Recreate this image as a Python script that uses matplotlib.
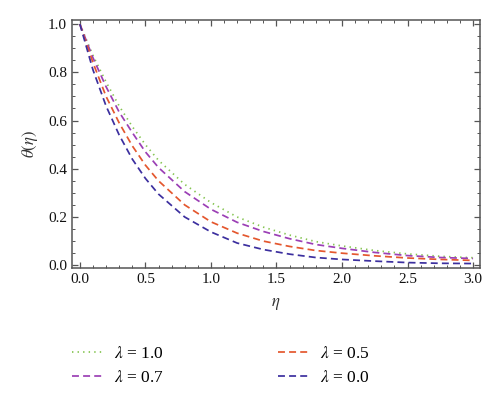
import matplotlib
matplotlib.use("Agg")
import matplotlib.pyplot as plt
from matplotlib.ticker import MultipleLocator, FormatStrFormatter

eta = [0.0, 0.1, 0.2, 0.3, 0.4, 0.5, 0.6, 0.8, 1.0, 1.2, 1.4, 1.6, 1.8, 2.0, 2.25, 2.5, 2.75, 3.0]
theta_l10 = [1.0, 0.87, 0.76, 0.66, 0.575, 0.50, 0.435, 0.335, 0.26, 0.20, 0.158, 0.125, 0.098, 0.08, 0.061, 0.047, 0.037, 0.031]
theta_l07 = [1.0, 0.86, 0.74, 0.635, 0.55, 0.47, 0.405, 0.305, 0.232, 0.178, 0.14, 0.11, 0.086, 0.07, 0.053, 0.040, 0.032, 0.028]
theta_l05 = [1.0, 0.84, 0.70, 0.59, 0.495, 0.415, 0.35, 0.25, 0.18, 0.133, 0.10, 0.078, 0.061, 0.050, 0.039, 0.030, 0.024, 0.020]
theta_l00 = [1.0, 0.81, 0.66, 0.54, 0.44, 0.36, 0.295, 0.20, 0.138, 0.092, 0.065, 0.046, 0.032, 0.024, 0.017, 0.011, 0.008, 0.007]
labels = [r"$\lambda$ = 1.0", r"$\lambda$ = 0.7", r"$\lambda$ = 0.5", r"$\lambda$ = 0.0"]

plt.rcParams['font.family'] = ['Liberation Serif', 'DejaVu Serif']
plt.rcParams['mathtext.fontset'] = 'stix'

fig = plt.figure(figsize=(5.0, 3.99), dpi=100)
ax = fig.add_axes([0.144, 0.328, 0.816, 0.622])

lw = 1.25
ax.plot(eta, theta_l10, color='#84c450', lw=lw, linestyle=(0, (0.8, 2.4)), label=labels[0])
ax.plot(eta, theta_l07, color='#9b3fb5', lw=lw, linestyle=(0, (4, 2.4)), label=labels[1])
ax.plot(eta, theta_l05, color='#e4572e', lw=lw, linestyle=(0, (4, 2.4)), label=labels[2])
ax.plot(eta, theta_l00, color='#3c2f9f', lw=lw, linestyle=(0, (4, 2.4)), label=labels[3])

ax.set_xlim(-0.06, 3.053)
ax.set_ylim(-0.012, 1.017)
ax.xaxis.set_major_locator(MultipleLocator(0.5))
ax.xaxis.set_minor_locator(MultipleLocator(0.1))
ax.yaxis.set_major_locator(MultipleLocator(0.2))
ax.yaxis.set_minor_locator(MultipleLocator(0.05))
ax.xaxis.set_major_formatter(FormatStrFormatter('%.1f'))
ax.yaxis.set_major_formatter(FormatStrFormatter('%.1f'))
ax.tick_params(which='both', direction='in', top=True, right=True, colors='#555555', labelcolor='#111111', labelsize=11)
ax.tick_params(which='major', length=4, width=0.9)
ax.tick_params(which='minor', length=2.2, width=0.7)
for s in ax.spines.values():
    s.set_color('#555555')
    s.set_linewidth(1.1)

ax.set_xlabel(r"$\eta$", fontsize=12, color='#333333', labelpad=7)
ax.set_ylabel(r"$\theta(\eta)$", fontsize=12, color='#333333', labelpad=6)

leg = fig.legend(loc='upper left', bbox_to_anchor=(0.113, 0.173), ncol=2, frameon=False,
                 fontsize=12.5, handlelength=1.75, columnspacing=6.6, handletextpad=0.65,
                 labelspacing=0.45, bbox_transform=fig.transFigure)
fig.savefig("out.png", dpi=100)
